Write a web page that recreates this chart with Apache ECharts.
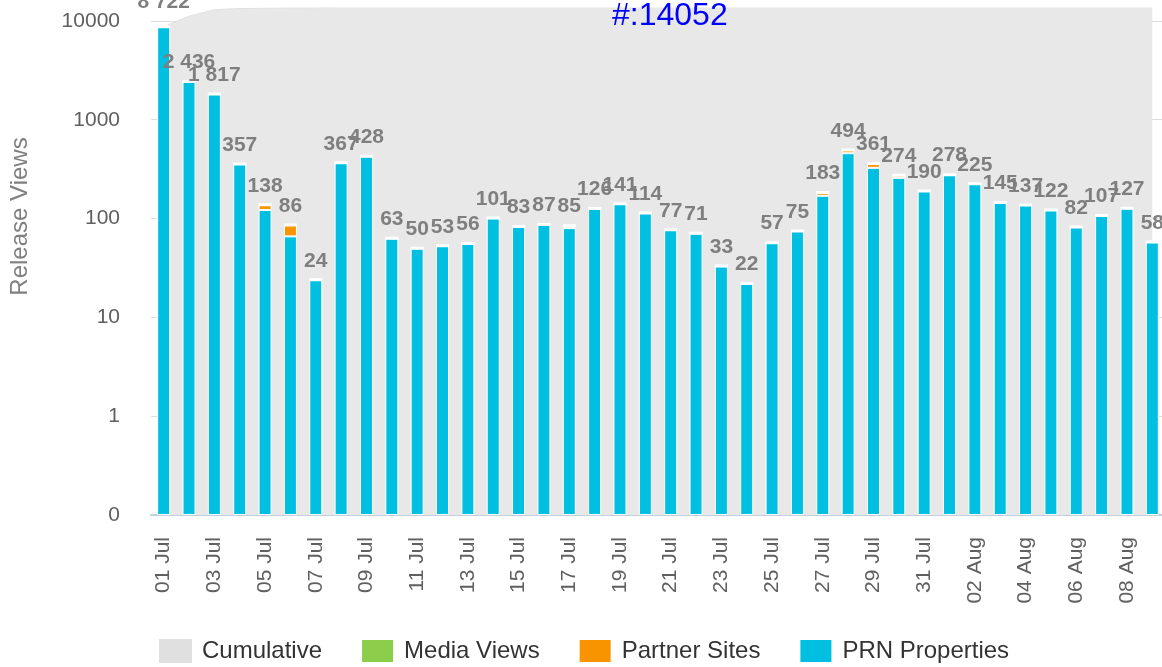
<!DOCTYPE html>
<html>
<head>
<meta charset="utf-8">
<script src="https://cdn.jsdelivr.net/npm/echarts@6/dist/echarts.min.js"></script>
<style>
  html, body { margin: 0; padding: 0; background: #ffffff; }
  #chart { width: 1162px; height: 667px; }
</style>
</head>
<body>
<div id="chart"></div>
<script>
// Daily release views, 01 Jul – 09 Aug
const days = [
  '01 Jul', '02 Jul', '03 Jul', '04 Jul', '05 Jul', '06 Jul', '07 Jul', '08 Jul', '09 Jul', '10 Jul',
  '11 Jul', '12 Jul', '13 Jul', '14 Jul', '15 Jul', '16 Jul', '17 Jul', '18 Jul', '19 Jul', '20 Jul',
  '21 Jul', '22 Jul', '23 Jul', '24 Jul', '25 Jul', '26 Jul', '27 Jul', '28 Jul', '29 Jul', '30 Jul',
  '31 Jul', '01 Aug', '02 Aug', '03 Aug', '04 Aug', '05 Aug', '06 Aug', '07 Aug', '08 Aug', '09 Aug'
];

const prnProperties = [
  8722, 2436, 1817, 357, 122, 66, 24, 367, 428, 63,
  50, 53, 56, 101, 83, 87, 80, 126, 141, 114,
  77, 71, 33, 22, 57, 75, 170, 458, 326, 258,
  190, 278, 225, 145, 137, 122, 82, 107, 127, 58
];

const partnerSites = [
  0, 0, 0, 0, 16, 20, 0, 0, 0, 0,
  0, 0, 0, 0, 0, 0, 5, 0, 0, 0,
  0, 0, 0, 0, 0, 0, 13, 36, 35, 16,
  0, 0, 0, 0, 0, 0, 0, 0, 0, 0
];

const mediaViews = [
  0, 0, 0, 0, 0, 0, 0, 0, 0, 0,
  0, 0, 0, 0, 0, 0, 0, 0, 0, 0,
  0, 0, 0, 0, 0, 0, 0, 0, 0, 0,
  0, 0, 0, 0, 0, 0, 0, 0, 0, 0
];

const cumulative = [
  8722, 11158, 12975, 13332, 13470, 13556, 13580, 13947, 14375, 14438,
  14488, 14541, 14597, 14698, 14781, 14868, 14953, 15079, 15220, 15334,
  15411, 15482, 15515, 15537, 15594, 15669, 15852, 16346, 16707, 16981,
  17171, 17449, 17674, 17819, 17956, 18078, 18160, 18267, 18394, 18452
];

const yTickLabels = { 0.1: '0', 1: '1', 10: '10', 100: '100', 1000: '1000', 10000: '10000' };

const FONT = 'Liberation Sans, Arial, Helvetica, sans-serif';
const COLORS = {
  cumulative: '#e0e0e0',
  cumulativeFill: '#e8e8e8',
  media: '#8cce4c',
  partner: '#f79400',
  prn: '#00bfe0'
};

// thousands grouped with a space, e.g. 2 436
const group = v => String(v).replace(/\B(?=(\d{3})+(?!\d))/g, ' ');

const barStyle = (color, border) => ({ color: color, borderColor: '#ffffff', borderWidth: border });

// the first day's total runs off the top edge, its label is pushed up a little further
const mediaData = mediaViews.map((v, i) => (i === 0 ? { value: v, label: { offset: [0, -6] } } : v));

const chart = echarts.init(document.getElementById('chart'), null, { renderer: 'canvas' });

chart.setOption({
  animation: false,
  textStyle: { fontFamily: FONT },
  title: {
    text: '#:14052',
    left: 612,
    top: 0,
    padding: 0,
    textStyle: { color: '#0000ff', fontSize: 32, fontWeight: 'normal', fontFamily: FONT }
  },
  legend: {
    data: ['Cumulative', 'Media Views', 'Partner Sites', 'PRN Properties'],
    left: 159,
    top: 638,
    padding: 0,
    icon: 'rect',
    itemWidth: 33,
    itemHeight: 24,
    itemGap: 38,
    textStyle: { fontSize: 24, color: '#333333', fontFamily: FONT, padding: [0, 0, 0, 5] }
  },
  grid: { left: 151, top: 8, width: 1014, height: 507, containLabel: false, outerBoundsMode: 'none' },
  xAxis: {
    type: 'category',
    data: days,
    boundaryGap: true,
    axisLine: { lineStyle: { color: '#c0d0e0', width: 2 } },
    axisTick: { alignWithLabel: true, interval: 1, length: 17, lineStyle: { color: '#c0d0e0', width: 1 } },
    axisLabel: { interval: 1, rotate: 90, fontSize: 21, color: '#606060', margin: 22 },
    splitLine: { show: false }
  },
  yAxis: {
    type: 'log',
    logBase: 10,
    min: 0.1,
    max: 13500,
    startValue: 0.1,
    name: 'Release Views',
    nameLocation: 'middle',
    nameGap: 119,
    nameRotate: 90,
    nameTextStyle: { fontSize: 24, color: '#808080', padding: [0, 0, 0, 90] },
    axisLine: { show: false },
    axisTick: { show: false },
    axisLabel: {
      fontSize: 21,
      color: '#606060',
      margin: 31,
      showMaxLabel: false,
      formatter: v => {
        for (const k in yTickLabels) {
          if (Math.abs(Number(k) - v) / Number(k) < 1e-6) return yTickLabels[k];
        }
        return '';
      }
    },
    splitLine: { show: true, showMaxLine: false, lineStyle: { color: '#dcdcdc', width: 1 } }
  },
  series: [
    {
      name: 'Cumulative',
      type: 'line',
      data: cumulative,
      showSymbol: false,
      clip: true,
      itemStyle: { color: COLORS.cumulative },
      lineStyle: { color: COLORS.cumulative, width: 1 },
      areaStyle: { color: COLORS.cumulativeFill, opacity: 1, origin: 0.1 },
      z: 1
    },
    {
      name: 'PRN Properties',
      type: 'bar',
      stack: 'views',
      barWidth: 13,
      data: prnProperties,
      itemStyle: barStyle(COLORS.prn, 1),
      z: 3
    },
    {
      name: 'Partner Sites',
      type: 'bar',
      stack: 'views',
      barWidth: 13,
      data: partnerSites,
      itemStyle: barStyle(COLORS.partner, 1),
      z: 3
    },
    {
      name: 'Media Views',
      type: 'bar',
      stack: 'views',
      barWidth: 13,
      data: mediaData,
      itemStyle: barStyle(COLORS.media, 3),
      z: 3,
      label: {
        show: true,
        position: 'top',
        distance: 7,
        fontSize: 21,
        fontWeight: 'bold',
        color: '#7f7f7f',
        fontFamily: FONT,
        formatter: p => group(prnProperties[p.dataIndex] + partnerSites[p.dataIndex] + mediaViews[p.dataIndex])
      }
    }
  ]
});
</script>
</body>
</html>
